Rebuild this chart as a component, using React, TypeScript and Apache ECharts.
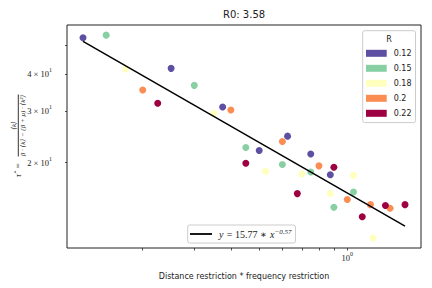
import React, { useEffect, useRef } from "react";
import * as echarts from "echarts";

// Series (one per distance restriction R): x = distance restriction * frequency restriction, y = tau hat
const rLabels = ["0.12", "0.15", "0.18", "0.2", "0.22"];
const rColors = ["#5e4fa2", "#88d0a4", "#ffffbe", "#fb8d52", "#9e0142"];

const x012 = [0.125, 0.25, 0.375, 0.5, 0.625, 0.75, 0.875];
const y012 = [53.1, 41.8, 30.9, 22.0, 24.6, 21.4, 18.2];
const x015 = [0.15, 0.3, 0.45, 0.6, 0.75, 0.9, 1.05];
const y015 = [54.2, 36.6, 22.5, 19.7, 18.6, 14.1, 15.9];
const x018 = [0.175, 0.35, 0.525, 0.7, 0.875, 1.05, 1.225];
const y018 = [41.6, 29.4, 18.7, 18.3, 15.7, 18.1, 11.1];
const x020 = [0.2, 0.4, 0.6, 0.8, 1.0, 1.2, 1.4];
const y020 = [35.3, 30.2, 23.6, 19.5, 15.0, 14.4, 14.0];
const x022 = [0.225, 0.45, 0.675, 0.9, 1.125, 1.35, 1.575];
const y022 = [31.8, 19.9, 15.7, 19.3, 13.1, 14.3, 14.4];

const seriesX = [x012, x015, x018, x020, x022];
const seriesY = [y012, y015, y018, y020, y022];

// Fitted power law y = 15.77 * x^-0.57, endpoints as drawn
const fitX = [0.125, 1.575];
const fitY = [51.6, 12.17];

// Axis limits (data units, log scale) and ticks
const xLimits = [0.1102, 1.786];
const yLimits = [10.26, 58.67];
const xTicks = [0.2, 0.3, 0.4, 0.5, 0.6, 0.7, 0.8, 0.9, 1];
const xTickLabels = [1];
const yTicks = [20, 30, 40, 50];
const yTickLabels = [20, 30, 40];

const L = (v: number) => Math.log10(v);
const SERIF = "'Liberation Serif', 'DejaVu Serif', serif";
const SANS = "'DejaVu Sans', sans-serif";
const INK = "#222222";

const supRich = {
  m: { fontSize: 8.5, fontFamily: SERIF, color: INK, lineHeight: 14 },
  s: { fontSize: 6, fontFamily: SERIF, color: INK, lineHeight: 8, verticalAlign: "top" },
};

const txt = (text: string, fontSize: number, italic: boolean) => ({
  text,
  fontSize,
  fontStyle: italic ? "italic" : "normal",
  fontFamily: SERIF,
  fill: INK,
  align: "center",
  verticalAlign: "middle",
  textAlign: "center",
  textVerticalAlign: "middle",
});

export default function App() {
  const ref = useRef<HTMLDivElement>(null);
  useEffect(() => {
    if (!ref.current) return;
    const chart = echarts.init(ref.current, undefined, { renderer: "svg" });
    const scatterSeries = rLabels.map((name, i) => ({
      type: "scatter",
      name,
      symbolSize: 7,
      itemStyle: { color: rColors[i], opacity: 1 },
      data: seriesX[i].map((x, j) => [L(x), L(seriesY[i][j])]),
    }));
    const option: any = {
      animation: false,
      backgroundColor: "#ffffff",
      title: {
        text: "R0: 3.58",
        left: 223,
        top: 9.5,
        padding: 0,
        textStyle: { fontSize: 10, fontWeight: "normal", fontFamily: SANS, color: INK },
      },
      grid: {
        left: 67,
        right: 11,
        top: 25,
        bottom: 40,
        show: true,
        borderColor: INK,
        borderWidth: 1,
        backgroundColor: "transparent",
        containLabel: false,
        outerBoundsMode: "none",
      },
      xAxis: {
        type: "value",
        min: L(xLimits[0]),
        max: L(xLimits[1]),
        axisLine: { show: false, onZero: false },
        splitLine: { show: false },
        axisTick: {
          show: true,
          customValues: xTicks.map(L),
          length: 2.5,
          lineStyle: { color: INK, width: 0.8 },
        },
        axisLabel: {
          show: true,
          customValues: xTickLabels.map(L),
          margin: 3,
          formatter: (v: number) => `{m|10}{s|${Math.round(v)}}`,
          rich: supRich,
        },
        name: "Distance restriction * frequency restriction",
        nameLocation: "middle",
        nameGap: 24,
        nameTextStyle: { fontSize: 8, fontFamily: SANS, color: INK },
      },
      yAxis: {
        type: "value",
        min: L(yLimits[0]),
        max: L(yLimits[1]),
        axisLine: { show: false, onZero: false },
        splitLine: { show: false },
        axisTick: {
          show: true,
          customValues: yTicks.map(L),
          length: 2,
          lineStyle: { color: INK, width: 0.8 },
        },
        axisLabel: {
          show: true,
          customValues: yTickLabels.map(L),
          margin: 15,
          formatter: (v: number) => {
            const e = Math.floor(v + 1e-9);
            const m = Math.round(Math.pow(10, v - e));
            return `{m|${m} × 10}{s|${e}}`;
          },
          rich: supRich,
        },
      },
      legend: [
        {
          data: rLabels,
          orient: "vertical",
          left: 362.7,
          top: 30.7,
          icon: "rect",
          itemWidth: 20.7,
          itemHeight: 7,
          itemGap: 7,
          padding: [18.6, 4, 5.3, 3.3],
          backgroundColor: "rgba(255,255,255,0.8)",
          borderColor: "#cccccc",
          borderWidth: 1,
          borderRadius: 2,
          selectedMode: false,
          textStyle: { fontSize: 8, fontFamily: SANS, color: INK, padding: [0, 0, 0, 2] },
        },
        {
          data: [{ name: "fit", icon: "rect" }],
          left: 187.7,
          top: 225,
          itemWidth: 22,
          itemHeight: 1.8,
          padding: [3, 4, 3, 2.3],
          backgroundColor: "rgba(255,255,255,0.8)",
          borderColor: "#cccccc",
          borderWidth: 1,
          borderRadius: 2,
          selectedMode: false,
          itemStyle: { color: "#000000" },
          formatter: () => "{i|y} {n|= 15.77 ∗} {i|x}{s|−0.57}",
          textStyle: {
            padding: [0, 0, 0, 2],
            rich: {
              i: { fontSize: 10, fontFamily: SERIF, fontStyle: "italic", color: INK, lineHeight: 12 },
              n: { fontSize: 10, fontFamily: SERIF, color: INK, lineHeight: 12 },
              s: { fontSize: 7, fontFamily: SERIF, fontStyle: "italic", color: INK, lineHeight: 7, verticalAlign: "top" },
            },
          },
        },
      ],
      graphic: [
        {
          type: "text",
          x: 389,
          y: 39,
          z: 100,
          style: {
            text: "R",
            fontSize: 8,
            fontFamily: SANS,
            fill: INK,
            align: "center",
            verticalAlign: "middle",
            textAlign: "center",
            textVerticalAlign: "middle",
          },
        },
        {
          type: "group",
          x: 18.3,
          y: 125.5,
          rotation: Math.PI / 2,
          z: 100,
          children: [
            {
              type: "line",
              shape: { x1: -31, y1: 0, x2: 31, y2: 0 },
              style: { stroke: "#000000", lineWidth: 0.8 },
            },
            { type: "text", x: 0, y: -4.3, style: txt("⟨k⟩", 7, true) },
            { type: "text", x: 0, y: 4.3, style: txt("β · ⟨k⟩ − (β + μ) · ⟨k²⟩", 7, true) },
            { type: "text", x: -40.5, y: 0, style: txt("=", 9, false) },
            { type: "text", x: -50.2, y: 0, style: txt("τ\u0302", 9, true) },
          ],
        },
      ],
      series: [
        ...scatterSeries,
        {
          type: "line",
          name: "fit",
          symbol: "none",
          lineStyle: { color: "#000000", width: 1.5 },
          itemStyle: { color: "#000000" },
          data: fitX.map((x, j) => [L(x), L(fitY[j])]),
        },
      ],
    };
    chart.setOption(option);
    return () => chart.dispose();
  }, []);
  return <div ref={ref} style={{ width: 432, height: 288, position: "fixed", left: 0, top: 0 }} />;
}
